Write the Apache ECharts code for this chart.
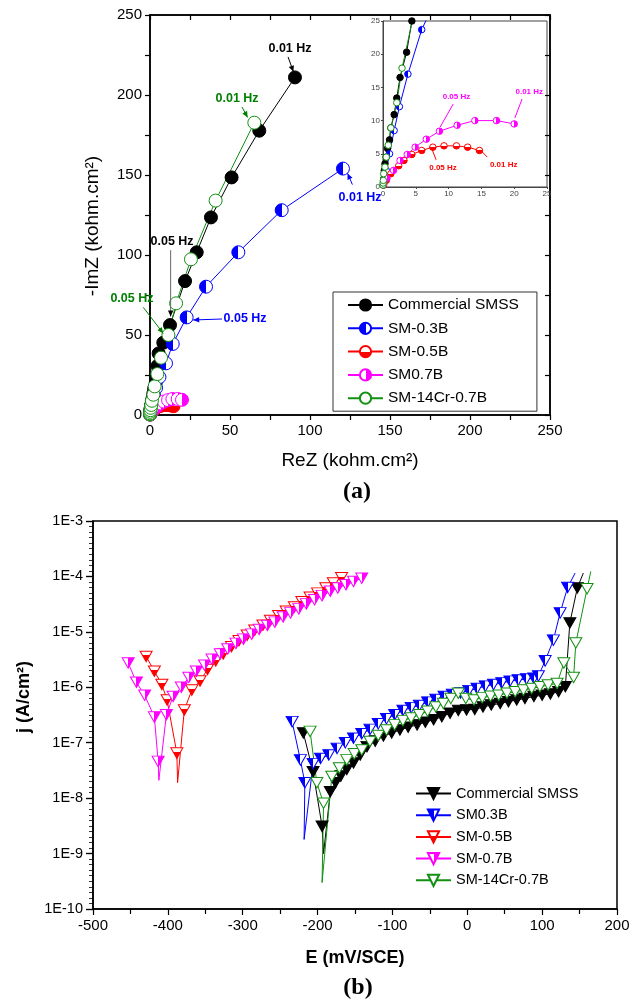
<!DOCTYPE html>
<html lang="en">
<head>
<meta charset="utf-8" />
<title>EIS and polarization curves</title>
<script src="https://cdn.jsdelivr.net/npm/echarts@6/dist/echarts.min.js"></script>
<style>html,body{margin:0;padding:0;background:#fff;}</style>
</head>
<body>
<div id="main" style="width:636px;height:1003px;"></div>
<script>
// ---- (a) Nyquist data, kohm.cm2 ----
var nyqNames = ['Commercial SMSS', 'SM-0.3B', 'SM-0.5B', 'SM0.7B', 'SM-14Cr-0.7B'];
var smssX = [0.1, 0.2, 0.3, 0.5, 0.7, 1.0, 1.2, 1.7, 2.1, 2.6, 3.6, 4.4, 4.6, 5.4, 8.3, 12.5, 21.9, 29.2, 38.1, 51.0, 68.3, 90.6];
var smssY = [1.2, 2.5, 3.5, 4.5, 5.8, 7.1, 8.9, 10.9, 13.4, 16.5, 20.3, 25.0, 30.6, 38.5, 45.2, 56.2, 83.7, 101.7, 123.5, 148.5, 177.7, 211.0];
var sm03X = [0.05, 0.2, 0.5, 1.0, 1.7, 2.5, 3.8, 5.9, 10.0, 14.2, 22.9, 35.0, 55.2, 82.3, 120.6];
var sm03Y = [0.3, 1.0, 2.5, 5.0, 8.5, 12.1, 17.0, 23.7, 32.3, 44.4, 61.0, 80.2, 101.7, 128.0, 154.0];
var sm05X = [0.1, 0.5, 1.2, 2.4, 3.2, 4.4, 5.9, 7.6, 9.3, 11.2, 12.9, 14.7];
var sm05Y = [0.3, 1.0, 2.0, 3.2, 4.0, 4.9, 5.5, 6.0, 6.2, 6.2, 6.0, 5.5];
var sm07X = [0.1, 0.6, 1.6, 2.6, 3.7, 4.9, 6.6, 8.6, 11.3, 14.0, 17.3, 20.0];
var sm07Y = [0.4, 1.3, 2.5, 4.0, 4.9, 6.0, 7.2, 8.4, 9.3, 10.0, 10.0, 9.5];
var crX = [0.0, 0.02, 0.05, 0.1, 0.3, 0.5, 0.8, 1.2, 2.1, 2.9, 4.6, 6.9, 11.5, 16.3, 25.6, 41.0, 65.2];
var crY = [0.3, 0.6, 1.0, 2.0, 3.0, 4.5, 6.3, 8.9, 12.7, 17.9, 25.6, 35.8, 50.0, 69.8, 97.3, 134.0, 182.7];

// ---- (b) polarization data, E in mV/SCE, j in A/cm2 ----
var polNames = ['Commercial SMSS ', 'SM0.3B', 'SM-0.5B ', 'SM-0.7B', 'SM-14Cr-0.7B '];
var pSmssE = [-219, -206, -194, -192, -183, -176, -169, -161, -152, -143, -134, -123, -112, -101, -90, -79, -67, -56, -45, -34, -23, -12, -1, 10, 21, 32, 44, 55, 66, 77, 89, 100, 111, 122, 131, 137, 147, 155];
var pSmssJ = [1.5e-7, 3.0e-8, 3.1e-9, 1.0e-9, 1.3e-8, 1.9e-8, 2.5e-8, 3.3e-8, 4.3e-8, 6.0e-8, 8.5e-8, 1.07e-7, 1.32e-7, 1.5e-7, 1.7e-7, 1.9e-7, 2.1e-7, 2.35e-7, 2.6e-7, 2.95e-7, 3.4e-7, 3.8e-7, 3.9e-7, 4.0e-7, 4.4e-7, 4.8e-7, 5.1e-7, 5.5e-7, 5.9e-7, 6.3e-7, 6.8e-7, 7.2e-7, 7.6e-7, 8.3e-7, 1.02e-6, 1.45e-5, 6.2e-5, 1.15e-4];
var pSmssBare = [3, 37];
var p03E = [-234, -223, -217, -218, -206, -196, -185, -174, -163, -152, -141, -130, -119, -108, -97, -86, -75, -64, -53, -42, -31, -20, -9, 2, 13, 24, 35, 46, 57, 68, 79, 89, 95, 104, 115, 124, 134, 144];
var p03J = [2.4e-7, 4.9e-8, 1.9e-8, 1.8e-9, 4.2e-8, 5.2e-8, 6.0e-8, 7.9e-8, 1.0e-7, 1.2e-7, 1.45e-7, 1.74e-7, 2.2e-7, 2.7e-7, 3.2e-7, 3.8e-7, 4.3e-7, 4.7e-7, 5.4e-7, 6.0e-7, 6.8e-7, 7.4e-7, 7.9e-7, 8.7e-7, 9.5e-7, 1.05e-6, 1.12e-6, 1.2e-6, 1.29e-6, 1.35e-6, 1.41e-6, 1.45e-6, 1.6e-6, 3.0e-6, 7.1e-6, 2.2e-5, 6.3e-5, 1.15e-4];
var p03Bare = [3, 37];
var p05E = [-429, -418, -408, -401, -388, -387, -378, -368, -357, -347, -336, -326, -315, -305, -294, -284, -273, -263, -252, -242, -231, -221, -210, -200, -189, -179, -168];
var p05J = [3.6e-6, 1.95e-6, 1.12e-6, 5.9e-7, 6.5e-8, 1.9e-8, 3.9e-7, 8.9e-7, 1.3e-6, 2.1e-6, 3.0e-6, 4.0e-6, 5.4e-6, 6.9e-6, 8.7e-6, 1.07e-5, 1.32e-5, 1.6e-5, 1.95e-5, 2.35e-5, 2.8e-5, 3.5e-5, 4.2e-5, 5.0e-5, 6.2e-5, 7.6e-5, 9.5e-5];
var p05Bare = [5];
var p07E = [-453, -442, -431, -418, -413, -412, -402, -393, -382, -372, -362, -351, -341, -330, -320, -309, -299, -288, -278, -267, -257, -246, -236, -225, -215, -204, -194, -183, -173, -162, -152, -141];
var p07J = [2.75e-6, 1.23e-6, 7.2e-7, 2.9e-7, 4.6e-8, 2.1e-8, 3.2e-7, 6.8e-7, 1.0e-6, 1.5e-6, 1.95e-6, 2.5e-6, 3.2e-6, 4.0e-6, 4.9e-6, 6.2e-6, 7.4e-6, 9.1e-6, 1.1e-5, 1.3e-5, 1.5e-5, 1.85e-5, 2.2e-5, 2.6e-5, 3.2e-5, 3.8e-5, 4.5e-5, 5.4e-5, 6.2e-5, 7.1e-5, 8.1e-5, 9.3e-5];
var p07Bare = [5];
var pCrE = [-210, -201, -192, -194, -181, -171, -161, -151, -141, -130, -119, -108, -97, -86, -75, -64, -53, -42, -32, -22, -12, -2, 9, 20, 31, 42, 53, 64, 75, 86, 97, 108, 120, 129, 142, 145, 160, 165];
var pCrJ = [1.6e-7, 1.9e-8, 8.1e-9, 3.0e-10, 2.45e-8, 3.5e-8, 4.9e-8, 6.3e-8, 7.4e-8, 1.05e-7, 1.35e-7, 1.7e-7, 2.1e-7, 2.5e-7, 2.8e-7, 3.2e-7, 3.7e-7, 4.4e-7, 5.1e-7, 6.3e-7, 7.8e-7, 6.3e-7, 5.9e-7, 6.5e-7, 6.9e-7, 7.2e-7, 7.8e-7, 8.3e-7, 8.9e-7, 9.5e-7, 1.02e-6, 1.1e-6, 1.17e-6, 2.75e-6, 1.5e-6, 6.3e-6, 6.0e-5, 1.23e-4];
var pCrBare = [3, 37];

// frequency labels: [text, color, grid, textAt, from, to, arrowhead]
var notes = [
  ['0.01 Hz', '#000', 0, [87.5, 228.8], [86.3, 223.8], [89.6, 214.5], true],
  ['0.01 Hz', '#008000', 0, [54.4, 197.5], [57.5, 192.5], [61.0, 186.0], true],
  ['0.01 Hz', '#0000ff', 0, [131.3, 136.0], [126.5, 144.0], [123.5, 151.0], true],
  ['0.05 Hz', '#000', 0, [13.8, 108.1], [12.9, 103.0], [12.9, 61.5], true],
  ['0.05 Hz', '#008000', 0, [-11.3, 72.5], [-4.2, 67.3], [8.3, 51.0], true],
  ['0.05 Hz', '#0000ff', 0, [59.4, 60.0], [45.0, 60.0], [27.0, 59.4], true],
  ['0.05 Hz', '#ff00ff', 1, [11.2, 13.6], [10.7, 12.5], [8.7, 9.0], false],
  ['0.01 Hz', '#ff00ff', 1, [22.3, 14.35], [21.2, 13.25], [20.1, 10.4], false],
  ['0.05 Hz', '#ff0000', 1, [9.15, 2.86], [8.1, 4.1], [7.5, 5.6], false],
  ['0.01 Hz', '#ff0000', 1, [18.4, 3.36], [15.9, 4.5], [14.8, 5.6], false]
];

var font = 'Liberation Sans, Arial, sans-serif';
var BLUE = '#0000ff', RED = '#ff0000', MAG = '#ff00ff', GREEN = '#119011';
var TRI = 'path://M0 0L20 0L10 17.3Z';
// which x / y axis pair each plot uses: main, inset, polarization
var AX = [[0, 0], [2, 2], [3, 3]];

function split(c1, c2, vertical, cut) {
  return {
    type: 'linear', x: 0, y: 0, x2: vertical ? 0 : 1, y2: vertical ? 1 : 0,
    colorStops: [{offset: 0, color: c1}, {offset: cut, color: c1}, {offset: cut, color: c2}, {offset: 1, color: c2}]
  };
}

function line(name, xs, ys, bare, plot, symbol, size, color, fill) {
  var data = xs.map(function (x, i) {
    var d = {value: [x, ys[i]]};
    if (bare && bare.indexOf(i) >= 0) d.symbol = 'none';
    return d;
  });
  return {
    type: 'line', name: name, xAxisIndex: AX[plot][0], yAxisIndex: AX[plot][1], data: data,
    symbol: symbol, symbolSize: size, showAllSymbol: true,
    lineStyle: {color: color, width: 1},
    itemStyle: {color: fill, borderColor: color, borderWidth: 1},
    emphasis: {disabled: true}, animation: false
  };
}

var nyqStyle = [
  ['#000', '#000'],
  [BLUE, split(BLUE, '#fff', false, 0.5)],
  [RED, split('#fff', RED, true, 0.5)],
  [MAG, split('#fff', MAG, false, 0.5)],
  [GREEN, '#fff']
];
var nyqData = [[smssX, smssY], [sm03X, sm03Y], [sm05X, sm05Y], [sm07X, sm07Y], [crX, crY]];
var polStyle = [
  ['#000', '#000'],
  [BLUE, split(BLUE, '#fff', false, 0.5)],
  [RED, split('#fff', RED, true, 0.4)],
  [MAG, split('#fff', MAG, false, 0.5)],
  [GREEN, '#fff']
];
var polData = [[pSmssE, pSmssJ, pSmssBare], [p03E, p03J, p03Bare], [p05E, p05J, p05Bare], [p07E, p07J, p07Bare], [pCrE, pCrJ, pCrBare]];

var series = [];
nyqData.forEach(function (d, i) {
  series.push(line(nyqNames[i], d[0], d[1], null, 0, 'circle', 13, nyqStyle[i][0], nyqStyle[i][1]));
});
nyqData.forEach(function (d, i) {
  series.push(line(nyqNames[i], d[0], d[1], null, 1, 'circle', 6.5, nyqStyle[i][0], nyqStyle[i][1]));
});
polData.forEach(function (d, i) {
  series.push(line(polNames[i], d[0], d[1], d[2], 2, TRI, [12, 10.5], polStyle[i][0], polStyle[i][1]));
});

var black = {color: '#000', width: 1.5};
var tick = {color: '#000', width: 1.2};

var option = {
  backgroundColor: '#fff',
  textStyle: {fontFamily: font},
  grid: [
    {left: 150, top: 15, width: 400, height: 400, show: true, borderColor: '#000', borderWidth: 1.5},
    {left: 383, top: 21, width: 164, height: 166, show: true, borderColor: '#444', borderWidth: 1, backgroundColor: '#fff'},
    {left: 93, top: 521, width: 524, height: 388, show: true, borderColor: '#000', borderWidth: 1.5},
    // same box as the polarization plot, only used for the decade minor ticks
    {left: 93, top: 521, width: 524, height: 388, show: false}
  ],
  xAxis: [
    {gridIndex: 0, type: 'value', min: 0, max: 250, interval: 50, position: 'bottom',
      axisLine: {onZero: false, lineStyle: black},
      axisTick: {length: 5, lineStyle: tick},
      minorTick: {show: true, splitNumber: 2, length: 5, lineStyle: tick},
      axisLabel: {fontSize: 15, color: '#000', margin: 8},
      splitLine: {show: false},
      name: 'ReZ (kohm.cm²)', nameLocation: 'middle', nameGap: 36,
      nameTextStyle: {fontSize: 19, color: '#000'}},
    {gridIndex: 0, type: 'value', min: 0, max: 250, interval: 25, position: 'top',
      axisLine: {onZero: false, lineStyle: black},
      axisTick: {inside: true, length: 5, lineStyle: tick},
      axisLabel: {show: false}, splitLine: {show: false}},
    {gridIndex: 1, type: 'value', min: 0, max: 25, interval: 5,
      axisLine: {onZero: false, lineStyle: {color: '#444', width: 1}},
      axisTick: {length: 2, lineStyle: {color: '#444'}},
      axisLabel: {fontSize: 8, color: '#444', margin: 3}, splitLine: {show: false}},
    {gridIndex: 2, type: 'value', min: -500, max: 200, interval: 100,
      axisLine: {onZero: false, lineStyle: black},
      axisTick: {length: 6, lineStyle: tick},
      minorTick: {show: true, splitNumber: 2, length: 5, lineStyle: tick},
      axisLabel: {fontSize: 15, color: '#000', margin: 9},
      splitLine: {show: false},
      name: 'E (mV/SCE)', nameLocation: 'middle', nameGap: 40,
      nameTextStyle: {fontSize: 18, fontWeight: 'bold', color: '#000'}},
    {gridIndex: 3, type: 'value', min: 0, max: 1, show: false}
  ],
  yAxis: [
    {gridIndex: 0, type: 'value', min: 0, max: 250, interval: 50, position: 'left',
      axisLine: {onZero: false, lineStyle: black},
      axisTick: {length: 5, lineStyle: tick},
      minorTick: {show: true, splitNumber: 2, length: 5, lineStyle: tick},
      axisLabel: {fontSize: 15, color: '#000', margin: 8},
      splitLine: {show: false},
      name: '-ImZ (kohm.cm²)', nameLocation: 'middle', nameGap: 48,
      nameTextStyle: {fontSize: 19, color: '#000', padding: [0, 22, 0, 0]}},
    {gridIndex: 0, type: 'value', min: 0, max: 250, interval: 25, position: 'right',
      axisLine: {onZero: false, lineStyle: black},
      axisTick: {inside: true, length: 5, lineStyle: tick},
      axisLabel: {show: false}, splitLine: {show: false}},
    {gridIndex: 1, type: 'value', min: 0, max: 25, interval: 5,
      axisLine: {onZero: false, lineStyle: {color: '#444', width: 1}},
      axisTick: {length: 2, lineStyle: {color: '#444'}},
      axisLabel: {fontSize: 8, color: '#444', margin: 3}, splitLine: {show: false}},
    {gridIndex: 2, type: 'log', logBase: 10, min: 1e-10, max: 1e-3, splitNumber: 7, position: 'left',
      axisLine: {onZero: false, lineStyle: black},
      axisTick: {length: 7, lineStyle: tick},
      axisLabel: {fontSize: 14.5, color: '#000', margin: 10,
        formatter: function (v) { return '1E' + Math.round(Math.log10(v)); }},
      splitLine: {show: false},
      name: 'j (A/cm²)', nameLocation: 'middle', nameGap: 60,
      nameTextStyle: {fontSize: 18, fontWeight: 'bold', color: '#000', padding: [0, 0, 0, 36]}},
    {gridIndex: 3, type: 'value', min: -10, max: -3, interval: 1, position: 'left',
      axisLine: {show: false, onZero: false},
      axisTick: {show: true, length: 7, lineStyle: tick},
      axisLabel: {show: false},
      minorTick: {show: true, splitNumber: 10, length: 4, lineStyle: {color: '#000', width: 0.8}},
      splitLine: {show: false}}
  ],
  legend: [
    {data: nyqNames, orient: 'vertical', left: 333, top: 292,
      itemWidth: 35, itemHeight: 14, itemGap: 7.3,
      padding: [5, 18, 5, 14], borderColor: '#333', borderWidth: 1,
      textStyle: {fontSize: 15.5, color: '#000'}, selectedMode: false},
    {data: polNames, orient: 'vertical', left: 415, top: 786,
      itemWidth: 35, itemHeight: 14, itemGap: 6.7, padding: 0,
      textStyle: {fontSize: 14.5, color: '#000'}, selectedMode: false}
  ],
  series: series
};

var chart = echarts.init(document.getElementById('main'));
chart.setOption(option);

// frequency annotations, placed through the axes
function toPx(g, p) {
  return chart.convertToPixel({xAxisIndex: AX[g][0], yAxisIndex: AX[g][1]}, p);
}
var gfx = [];
notes.forEach(function (n) {
  var t = toPx(n[2], n[3]), a = toPx(n[2], n[4]), b = toPx(n[2], n[5]);
  var big = n[2] === 0;
  gfx.push({type: 'text', x: t[0], y: t[1], z: 100,
    style: {text: n[0], fill: n[1], fontSize: big ? 12.5 : 8, fontWeight: 'bold', fontFamily: font,
      align: 'center', verticalAlign: 'middle'}});
  gfx.push({type: 'line', z: 100, shape: {x1: a[0], y1: a[1], x2: b[0], y2: b[1]},
    style: {stroke: n[1] === '#000' && n[0] === '0.05 Hz' ? '#666' : n[1], lineWidth: 1}});
  if (n[6]) {
    var dx = b[0] - a[0], dy = b[1] - a[1], L = Math.sqrt(dx * dx + dy * dy) || 1;
    var ux = dx / L, uy = dy / L, s = 6;
    var bx = b[0] - ux * s, by = b[1] - uy * s;
    gfx.push({type: 'polygon', z: 100,
      shape: {points: [[b[0], b[1]], [bx - uy * s * 0.45, by + ux * s * 0.45], [bx + uy * s * 0.45, by - ux * s * 0.45]]},
      style: {fill: n[1]}});
  }
});
gfx.push({type: 'text', x: 357, y: 492, z: 100,
  style: {text: '(a)', fill: '#000', fontSize: 24, fontWeight: 'bold', fontFamily: 'Liberation Serif, Times New Roman, serif',
    align: 'center', verticalAlign: 'middle'}});
gfx.push({type: 'text', x: 358, y: 988, z: 100,
  style: {text: '(b)', fill: '#000', fontSize: 24, fontWeight: 'bold', fontFamily: 'Liberation Serif, Times New Roman, serif',
    align: 'center', verticalAlign: 'middle'}});
chart.setOption({graphic: gfx});
</script>
</body>
</html>
